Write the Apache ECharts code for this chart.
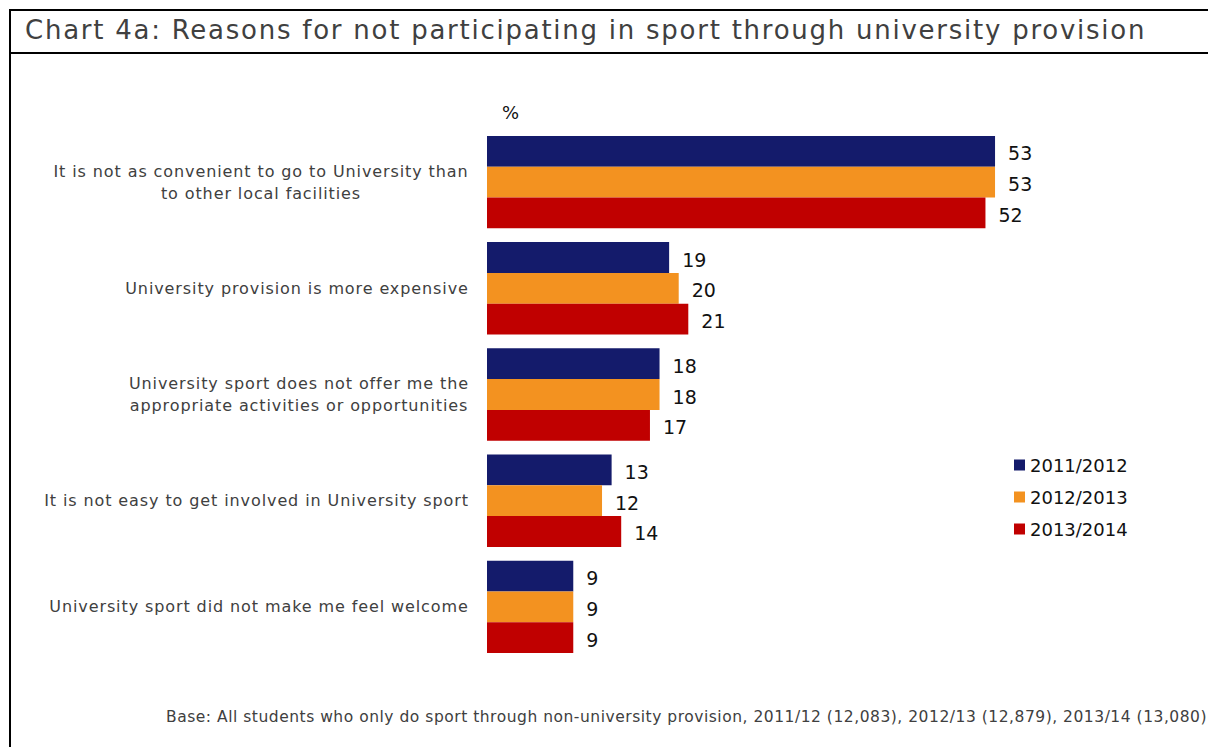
<!DOCTYPE html>
<html>
<head>
<meta charset="utf-8">
<script src="https://cdn.jsdelivr.net/npm/echarts@6/dist/echarts.min.js"></script>
<style>
  html, body { margin: 0; padding: 0; background: #ffffff; }
  #chart { width: 1208px; height: 747px; }
  /* open up the tracking of the wide Verdana-style lettering */
  #chart text[style*="26px"] { letter-spacing: 1.75px; }
  #chart text[style*="16px"] { letter-spacing: 0.9px; }
  #chart text[style*="15.5px"] { letter-spacing: 0.52px; }
</style>
</head>
<body>
<div id="chart"></div>
<script>
// Reasons shown top to bottom
const categories = [
  'It is not as convenient to go to University than\nto other local facilities',
  'University provision is more expensive',
  'University sport does not offer me the\nappropriate activities or opportunities',
  'It is not easy to get involved in University sport',
  'University sport did not make me feel welcome'
];
const seriesNames = ['2011/2012', '2012/2013', '2013/2014'];
const values2011 = [53, 19, 18, 13, 9];
const values2012 = [53, 20, 18, 12, 9];
const values2013 = [52, 21, 17, 14, 9];
const colors = ['#141B6B', '#F39220', '#C00000'];

const FONT = '"DejaVu Sans", sans-serif';
const LABEL_SIZE = 16;
const LABEL_TRACKING = 0.9;

// Measure each category label so that wrapped lines can be centred on each other
const ctx = document.createElement('canvas').getContext('2d');
ctx.font = LABEL_SIZE + 'px ' + FONT;
const rich = {};
categories.forEach((c, i) => {
  const w = Math.max(...c.split('\n').map(l => ctx.measureText(l).width + l.length * LABEL_TRACKING));
  rich['c' + i] = { width: Math.ceil(w), align: 'center', fontFamily: FONT, fontSize: LABEL_SIZE,
                    color: '#404040', lineHeight: 22 };
});

const chart = echarts.init(document.getElementById('chart'), null, { renderer: 'svg' });
const seriesData = [values2011, values2012, values2013];

chart.setOption({
  animation: false,
  textStyle: { fontFamily: FONT },
  grid: { left: 487, top: 129, width: 671, height: 531, containLabel: false },
  legend: {
    orient: 'vertical',
    left: 1009,
    top: 451,
    itemWidth: 11,
    itemHeight: 11,
    itemGap: 14,
    icon: 'rect',
    data: seriesNames,
    textStyle: { fontFamily: FONT, fontSize: 18, color: '#111' }
  },
  xAxis: {
    type: 'value',
    min: 0,
    max: 70,
    show: false
  },
  yAxis: {
    type: 'category',
    inverse: true,
    data: categories,
    axisLine: { show: false },
    axisTick: { show: false },
    axisLabel: {
      fontFamily: FONT,
      fontSize: LABEL_SIZE,
      color: '#404040',
      margin: 18,
      lineHeight: 22,
      align: 'right',
      formatter: (value, idx) => value.split('\n').map(l => '{c' + idx + '|' + l + '}').join('\n'),
      rich: rich
    }
  },
  graphic: [
    // frame: top rule, rule under the heading, left rule
    { type: 'rect', shape: { x: 9, y: 9, width: 1199, height: 2 }, style: { fill: '#000' } },
    { type: 'rect', shape: { x: 9, y: 52, width: 1199, height: 2 }, style: { fill: '#000' } },
    { type: 'rect', shape: { x: 9, y: 9, width: 2, height: 738 }, style: { fill: '#000' } },
    {
      type: 'text', left: 25, top: 17,
      style: { text: 'Chart 4a: Reasons for not participating in sport through university provision',
               font: '26px ' + FONT, fill: '#404040' }
    },
    {
      type: 'text', left: 502, top: 103,
      style: { text: '%', font: '18px ' + FONT, fill: '#111' }
    },
    {
      type: 'text', left: 166, top: 709,
      style: { text: 'Base: All students who only do sport through non-university provision, 2011/12 (12,083), 2012/13 (12,879), 2013/14 (13,080)',
               font: '15.5px ' + FONT, fill: '#404040' }
    }
  ],
  series: seriesNames.map((name, i) => ({
    name: name,
    type: 'bar',
    data: seriesData[i],
    barGap: '0%',
    barCategoryGap: '13%',
    itemStyle: { color: colors[i] },
    label: {
      show: true,
      position: 'right',
      distance: 13,
      offset: [0, 2],
      fontFamily: FONT,
      fontSize: 19,
      color: '#111'
    }
  }))
});
</script>
</body>
</html>
